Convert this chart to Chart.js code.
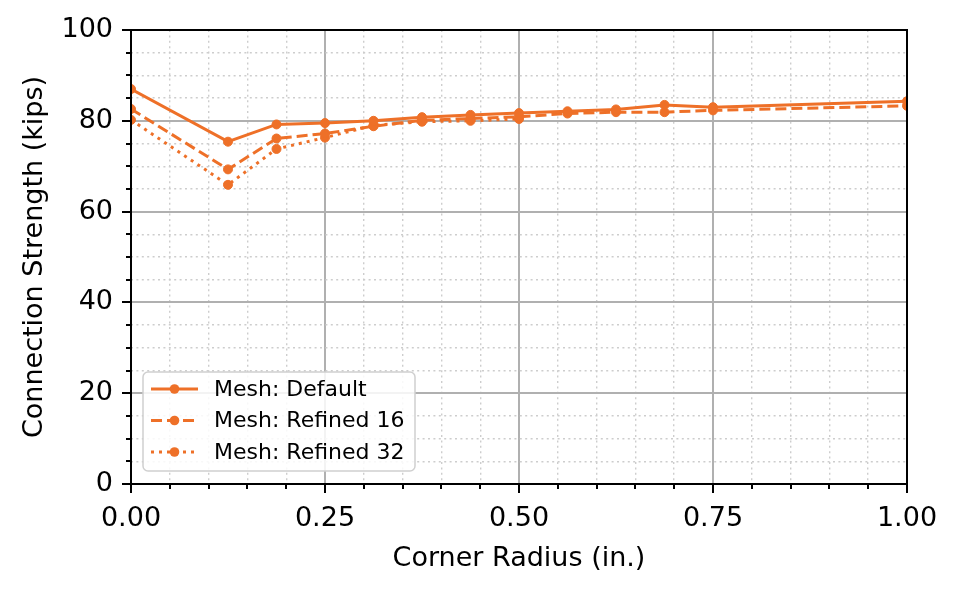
<!DOCTYPE html>
<html>
<head>
<meta charset="utf-8">
<script src="https://cdn.jsdelivr.net/npm/chart.js@4"></script>
<style>
  html, body { margin: 0; padding: 0; background: #ffffff; }
  #wrap { width: 957px; height: 590px; }
</style>
</head>
<body>
<div id="wrap"><canvas id="c" width="957" height="590"></canvas></div>
<script>
// ---- data ----
const cornerRadius = [0, 0.125, 0.1875, 0.25, 0.3125, 0.375, 0.4375, 0.5, 0.5625, 0.625, 0.6875, 0.75, 1.0];
const meshDefault   = [87.0, 75.4, 79.2, 79.5, 80.0, 80.8, 81.3, 81.7, 82.1, 82.5, 83.5, 83.0, 84.3];
const meshRefined16 = [82.6, 69.3, 76.1, 77.2, 78.8, 80.1, 80.5, 80.9, 81.6, 81.9, 81.9, 82.3, 83.3];
const meshRefined32 = [80.2, 65.9, 73.8, 76.3, 79.0, 79.8, 80.0, 80.4];
const seriesNames = ['Mesh: Default', 'Mesh: Refined 16', 'Mesh: Refined 32'];
const xTickValues = [0, 0.25, 0.5, 0.75, 1.0];
const yTickValues = [0, 20, 40, 60, 80, 100];
const xTitle = 'Corner Radius (in.)';
const yTitle = 'Connection Strength (kips)';

const ORANGE = 'rgb(238,112,40)';
const FONT = "'DejaVu Sans', 'Liberation Sans', sans-serif";

function toPoints(xs, ys) { return ys.map((v, i) => ({ x: xs[i], y: v })); }

const dashes = [[], [11, 5], [3, 5]];
const seriesValues = [meshDefault, meshRefined16, meshRefined32];

const datasets = seriesValues.map((vals, k) => ({
  label: seriesNames[k],
  data: toPoints(cornerRadius, vals),
  borderColor: ORANGE,
  backgroundColor: ORANGE,
  borderWidth: 3,
  borderDash: dashes[k],
  pointRadius: 4.5,
  pointHoverRadius: 4.5,
  pointBorderWidth: 1,
  pointBackgroundColor: ORANGE,
  pointBorderColor: ORANGE,
  tension: 0,
  fill: false,
  clip: 0
}));

// minor ticks: x every 0.05, y every 5
function buildMinorTicks(major) {
  const out = [];
  const step = (major[1] - major[0]) / (major === xTickValues ? 5 : 4);
  const n = Math.round((major[major.length - 1] - major[0]) / step);
  for (let i = 0; i <= n; i++) {
    const v = +(major[0] + i * step).toFixed(6);
    const isMajor = major.some(m => Math.abs(m - v) < 1e-9);
    out.push({ value: v, major: isMajor });
  }
  return out;
}

const framePlugin = {
  id: 'framePlugin',
  afterDraw(chart) {
    const { ctx, chartArea: a } = chart;
    ctx.save();
    // tick marks
    ctx.strokeStyle = '#000';
    ctx.lineWidth = 2;
    const xs = chart.scales.x, ys = chart.scales.y;
    xs.ticks.forEach(t => {
      const px = Math.round(xs.getPixelForValue(t.value));
      const len = t.major ? 9 : 5;
      ctx.beginPath(); ctx.moveTo(px, a.bottom); ctx.lineTo(px, a.bottom + len); ctx.stroke();
    });
    ys.ticks.forEach(t => {
      const py = Math.round(ys.getPixelForValue(t.value));
      const len = t.major ? 9 : 5;
      ctx.beginPath(); ctx.moveTo(a.left, py); ctx.lineTo(a.left - len, py); ctx.stroke();
    });
    // frame
    ctx.lineWidth = 2;
    ctx.strokeRect(a.left, a.top, a.right - a.left, a.bottom - a.top);

    // legend (lower left, matplotlib style)
    const bx = 143, by = 372, bw = 272, bh = 99;
    ctx.fillStyle = 'rgba(255,255,255,0.85)';
    ctx.strokeStyle = '#d0d0d0';
    ctx.lineWidth = 1.5;
    ctx.beginPath();
    ctx.roundRect(bx, by, bw, bh, 5);
    ctx.fill(); ctx.stroke();
    const rows = [389, 420.5, 452];
    chart.data.datasets.forEach((ds, k) => {
      const y = rows[k];
      ctx.strokeStyle = ds.borderColor;
      ctx.lineWidth = ds.borderWidth;
      ctx.setLineDash(ds.borderDash);
      ctx.beginPath(); ctx.moveTo(151, y); ctx.lineTo(198, y); ctx.stroke();
      ctx.setLineDash([]);
      ctx.fillStyle = ds.pointBackgroundColor;
      ctx.beginPath(); ctx.arc(174.5, y, 4.8, 0, Math.PI * 2); ctx.fill();
      ctx.fillStyle = '#000';
      ctx.font = '22px ' + FONT;
      ctx.textBaseline = 'middle';
      ctx.textAlign = 'left';
      ctx.fillText(ds.label, 214, y + 1);
    });
    ctx.restore();
  }
};

const gridColor = (c) => (c.tick && c.tick.major) ? '#b0b0b0' : '#cdcdcd';
const gridWidth = (c) => (c.tick && c.tick.major) ? 2 : 1.4;
const gridDash = (c) => (c.tick && !c.tick.major) ? [2, 3.4] : [];

new Chart(document.getElementById('c'), {
  type: 'line',
  data: { datasets },
  plugins: [framePlugin],
  options: {
    responsive: false,
    devicePixelRatio: 1,
    animation: false,
    events: [],
    layout: { padding: { top: 30, right: 50, left: 0, bottom: 0 } },
    plugins: { legend: { display: false }, tooltip: { enabled: false } },
    scales: {
      x: {
        type: 'linear',
        min: 0, max: 1,
        afterBuildTicks: (s) => { s.ticks = buildMinorTicks(xTickValues); },
        afterFit: (s) => { s.height = 106; s.paddingLeft = 0; s.paddingRight = 0; },
        grid: { color: gridColor, lineWidth: gridWidth, drawTicks: false },
        border: { display: false, dash: gridDash },
        ticks: {
          autoSkip: false, maxRotation: 0, padding: 19,
          color: '#000', font: { family: FONT, size: 27 },
          callback: function (v, i, ticks) { return ticks[i].major ? Number(v).toFixed(2) : ''; }
        },
        title: {
          display: true, text: xTitle, color: '#000',
          font: { family: FONT, size: 27 }, padding: { top: 0, bottom: 15 }
        }
      },
      y: {
        type: 'linear',
        min: 0, max: 100,
        afterBuildTicks: (s) => { s.ticks = buildMinorTicks(yTickValues); },
        afterFit: (s) => { s.width = 131; s.paddingTop = 0; s.paddingBottom = 0; },
        grid: { color: gridColor, lineWidth: gridWidth, drawTicks: false },
        border: { display: false, dash: gridDash },
        ticks: {
          autoSkip: false, padding: 18,
          color: '#000', font: { family: FONT, size: 27 },
          callback: function (v, i, ticks) { return ticks[i].major ? String(v) : ''; }
        },
        title: {
          display: true, text: yTitle, color: '#000',
          font: { family: FONT, size: 27 }, padding: { top: 19, bottom: 0 }
        }
      }
    }
  }
});
</script>
</body>
</html>
